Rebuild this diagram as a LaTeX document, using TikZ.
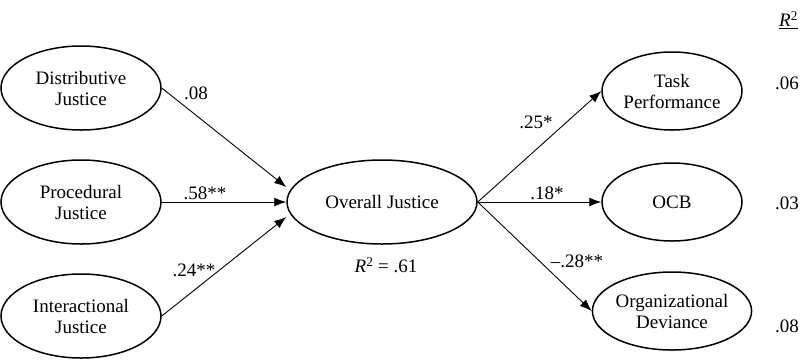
\documentclass[tikz,border=0pt]{standalone}
\usepackage{fontspec}
\setmainfont{Liberation Serif}
\usetikzlibrary{shapes.geometric,arrows.meta}
\begin{document}
\begin{tikzpicture}[x=1pt,y=-1pt,
  every node/.style={font=\fontsize{19}{21}\selectfont},
  latent/.style={ellipse,draw,line width=1.5pt,inner sep=0pt,align=center},
  lbox/.style={latent,minimum width=160pt,minimum height=84pt},
  rbox/.style={latent,minimum width=140pt,minimum height=78pt},
  obox/.style={latent,minimum width=190pt,minimum height=84pt},
  arr/.style={-{Latex[length=12pt,width=9pt]},line width=0.9pt},
  coef/.style={inner sep=0pt}]
\useasboundingbox (0,0) rectangle (802,360);

\node[lbox] (dist) at (81,88) {Distributive\\Justice};
\node[lbox] (proc) at (81,202) {Procedural\\Justice};
\node[lbox] (inter) at (81,316) {Interactional\\Justice};
\node[obox] (ov) at (382,202) {Overall Justice};
\node[rbox] (task) at (672,91) {Task\\Performance};
\node[rbox] (ocb) at (672,202) {OCB};
\node[rbox] (org) at (672,311) {Organizational\\Deviance};

\draw[arr] (dist.east) -- ([yshift=15pt]ov.west);
\draw[arr] (proc.east) -- (ov.west);
\draw[arr] (inter.east) -- ([yshift=-15pt]ov.west);
\draw[arr] (ov.east) -- (task.west);
\draw[arr] (ov.east) -- (ocb.west);
\draw[arr] (ov.east) -- (org.west);

\node[coef] (c1) at (196,93) {.08};
\node[coef] (c2) at (205,193) {.58**};
\node[coef] (c3) at (194,270) {.24**};
\node[coef] (c4) at (536,122) {.25*};
\node[coef] (c5) at (547,193) {.18*};
\node[coef] (c6) at (577,261) {\textendash.28**};
\node[coef] (r2) at (386,265) {\textit{R}\textsuperscript{2} = .61};

\node[coef,anchor=west] (hdr) at (779,20) {\underline{\textit{R}\textsuperscript{2}}};
\node[coef] (v1) at (787,83) {.06};
\node[coef] (v2) at (787,203) {.03};
\node[coef] (v3) at (787,326) {.08};
\end{tikzpicture}
\end{document}
